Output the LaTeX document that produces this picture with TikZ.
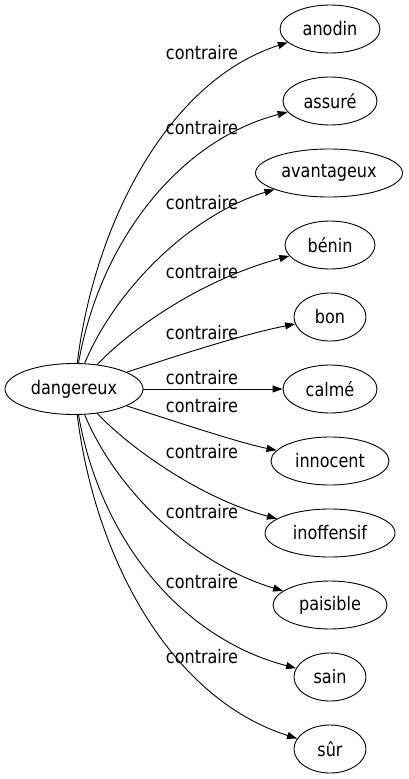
\documentclass[tikz,border=0pt]{standalone}
\usepackage{fontspec}
\setmainfont[FakeStretch=0.86]{DejaVu Sans}
\usetikzlibrary{shapes.geometric,arrows.meta}
\tikzset{
  word/.style={draw, ellipse, line width=0.9pt, inner sep=0pt, minimum height=48pt, font=\fontsize{18.67}{20}\selectfont},
  rel/.style={draw, line width=0.9pt, -{Triangle[length=10pt,width=7pt]}},
  lab/.style={font=\fontsize{18.67}{20}\selectfont, inner sep=0pt}
}
\begin{document}
\begin{tikzpicture}[x=1pt,y=-1pt]
\useasboundingbox (0,0) rectangle (408,779);
\node[word, minimum width=138pt, minimum height=51pt] (dang) at (74,389) {dangereux};
\node[word, minimum width=100pt] (anodin) at (330,29) {anodin};
\node[word, minimum width=94pt] (assure) at (330,101) {assuré};
\node[word, minimum width=147pt] (avant) at (329,173) {avantageux};
\node[word, minimum width=90pt] (benin) at (330,245) {bénin};
\node[word, minimum width=72pt] (bon) at (330,317) {bon};
\node[word, minimum width=94pt] (calme) at (330,389) {calmé};
\node[word, minimum width=118pt] (innoc) at (330,461) {innocent};
\node[word, minimum width=130pt] (inoff) at (330,533) {inoffensif};
\node[word, minimum width=114pt] (paisi) at (330,605) {paisible};
\node[word, minimum width=72pt] (sain) at (330,677) {sain};
\node[word, minimum width=72pt] (sur) at (330,749) {sûr};

\draw[rel] (dang) .. controls (95,220) and (170,80) .. (anodin);
\draw[rel] (dang) .. controls (100,240) and (180,140) .. (assure);
\draw[rel] (dang) .. controls (115,290) and (190,215) .. (avant);
\draw[rel] (dang) .. controls (130,330) and (200,280) .. (benin);
\draw[rel] (dang) .. controls (180,355) and (240,335) .. (bon);
\draw[rel] (dang) -- (calme);
\draw[rel] (dang) .. controls (180,423) and (240,443) .. (innoc);
\draw[rel] (dang) .. controls (130,448) and (200,498) .. (inoff);
\draw[rel] (dang) .. controls (115,488) and (190,563) .. (paisi);
\draw[rel] (dang) .. controls (100,538) and (180,638) .. (sain);
\draw[rel] (dang) .. controls (95,558) and (170,698) .. (sur);

\node[lab] (l1) at (202,53) {contraire};
\node[lab] (l2) at (202,128) {contraire};
\node[lab] (l3) at (202,203) {contraire};
\node[lab] (l4) at (202,272) {contraire};
\node[lab] (l5) at (202,333) {contraire};
\node[lab] (l6) at (202,378) {contraire};
\node[lab] (l7) at (202,406) {contraire};
\node[lab] (l8) at (202,452) {contraire};
\node[lab] (l9) at (202,512) {contraire};
\node[lab] (l10) at (202,582) {contraire};
\node[lab] (l11) at (202,657) {contraire};
\end{tikzpicture}
\end{document}
